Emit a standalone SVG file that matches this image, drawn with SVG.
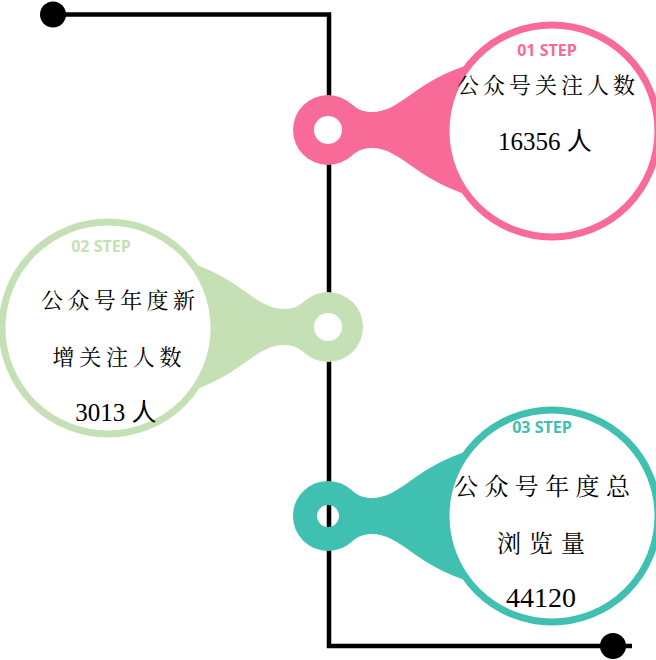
<svg xmlns="http://www.w3.org/2000/svg" width="656" height="660" viewBox="0 0 656 660">
<style>
.line{fill:none;stroke:#000;stroke-width:4.5;}
.step{font-family:"Open Sans","Noto Sans",sans-serif;font-weight:bold;font-size:16px;text-anchor:middle;}
.cjk{font-family:"Noto Serif CJK SC","Noto Sans CJK SC",serif;font-size:22px;fill:#000;text-anchor:middle;}
.num{font-family:"Liberation Serif","Noto Sans CJK SC",serif;font-size:25px;fill:#000;text-anchor:middle;}
.big{fill:#fff;stroke-width:7;}
</style>
<defs>
<path id="neck" d="M 22,-27 C 30,-20 36,-18 44,-18 C 58,-18 70,-26 85,-37 C 100,-48 118,-58 140,-65 L 150,0 L 140,65 C 118,58 100,48 85,37 C 70,26 58,18 44,18 C 36,18 30,20 22,27 Z"/>
</defs>
<g id="connectors">
<polyline class="line" points="53,14.5 329,14.5 329,646 632,646"/>
<circle cx="53" cy="14.5" r="13" fill="#000"/>
<circle cx="613" cy="646" r="13" fill="#000"/>
</g>
<g id="step1">
<use href="#neck" transform="translate(328,130)" fill="#F86A98"/>
<circle cx="328" cy="130" r="35" fill="#F86A98"/>
<circle cx="328" cy="130" r="14" fill="#fff"/>
<circle class="big" cx="552" cy="131" r="106" stroke="#F86A98"/>
<text class="step" x="547" y="56" fill="#F86A98">01 STEP</text>
<text class="cjk" x="546" y="93" textLength="178" lengthAdjust="spacing">公众号关注人数</text>
<text class="num" x="545" y="150">16356 人</text>
</g>
<g id="step2">
<use href="#neck" transform="translate(328,327) scale(-1,1)" fill="#C5E0B4"/>
<circle cx="328" cy="327" r="35" fill="#C5E0B4"/>
<circle cx="328" cy="327" r="14" fill="#fff"/>
<circle class="big" cx="108" cy="328" r="106" stroke="#C5E0B4"/>
<text class="step" x="101" y="252" fill="#C5E0B4">02 STEP</text>
<text class="cjk" x="118" y="308" textLength="154" lengthAdjust="spacing">公众号年度新</text>
<text class="cjk" x="117" y="365" textLength="129" lengthAdjust="spacing">增关注人数</text>
<text class="num" x="116" y="421">3013 人</text>
</g>
<g id="step3">
<use href="#neck" transform="translate(328,516)" fill="#40C0B1"/>
<circle cx="328" cy="516" r="23" fill="none" stroke="#40C0B1" stroke-width="24"/>
<circle class="big" cx="552" cy="516" r="106" stroke="#40C0B1"/>
<text class="step" x="542" y="433" fill="#40C0B1">03 STEP</text>
<text class="cjk" x="542" y="495" font-size="24" textLength="176" lengthAdjust="spacing" style="font-size:24px">公众号年度总</text>
<text class="cjk" x="541" y="552" textLength="88" lengthAdjust="spacing" style="font-size:24px">浏览量</text>
<text class="num" x="541" y="607" style="font-size:28px">44120</text>
</g>
</svg>
